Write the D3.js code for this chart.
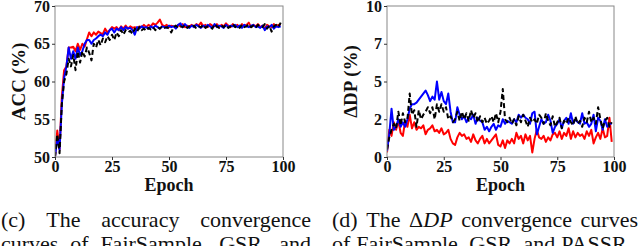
<!DOCTYPE html>
<html>
<head>
<meta charset="utf-8">
<script src="https://cdn.jsdelivr.net/npm/d3@7"></script>
<style>
  body { margin:0; background:#fff; }
  svg { display:block; }
  .tick text { font-family:"Liberation Serif", serif; font-weight:bold; font-size:16px; fill:#111; }
  .lbl { font-family:"Liberation Serif", serif; font-weight:bold; fill:#111; }
  .cap { font-family:"Liberation Serif", serif; font-size:22px; fill:#111; }
</style>
</head>
<body>
<div id="chart-area"></div>
<script>
// epochs 0..99
var epochs = d3.range(0, 100);

// ---- accuracy (%) ----
var accRed = [50,53.5,51,58,61.5,62,64.5,64.5,64.6,64,65,64.2,65,64.6,65.6,66.5,66,66.5,66.2,66.6,
  66.4,66.3,67,66.5,66.8,67.2,67,67.2,66.8,67.3,67,67.4,67,67.3,67.1,67.2,67,67.3,67.2,67.5,
  67.2,67.5,67.3,67.7,67.5,67.8,68.2,67.5,67.3,67.5,67.2,67.4,67.3,67.2,67.5,67.3,67.6,67.2,67.4,67.3,
  67.5,67.2,67.6,67.4,67.8,67.3,67.5,67.2,67.6,67.4,67.3,67.6,67.2,67.5,67.3,67.7,67.4,67.2,67.6,67.3,
  67.5,67.2,67.6,67.3,67.5,67.8,67.2,67.5,67.3,67.6,67.2,67.4,67.0,67.5,67.3,67.2,67.6,67.3,67.5,67.6];
var accBlue = [50,52.5,51,57,60.5,62,64.5,63,64,63,64.5,63.5,64,65,65.5,65.5,65,65.5,65.7,66,
  66.2,66,66.5,66.2,66.8,67,66.5,67,66.8,67.2,66.8,67.2,67,67.1,66.8,66.2,67.2,67,67.3,67.1,
  67.2,67,67.3,67.1,67.4,67.2,67,67.3,67.2,67.1,67.4,67.2,67.3,67,67.5,67.7,67.2,67.6,67.3,67.1,
  67.4,67.2,67.5,67.3,67.1,67.4,67.2,67.5,67.3,67.1,67.6,67.2,67.4,67.3,67.1,67.5,67.2,67.4,67.3,67.5,
  67.2,67.4,67.1,67.5,67.3,67.2,67.4,67.5,67.2,67.3,67.1,67.4,66.8,67.3,67.2,67.5,67.0,67.3,67.2,67.3];
var accBlack = [50,53,50.5,57,60,61,63,62,63.5,61.5,64,62.5,64,63.3,64.5,63.8,62.8,65,64.5,65.5,
  64.8,65.7,65.2,66,65.5,66.2,65.5,66.5,66,66.8,66.2,66.8,66.5,66.7,66.3,67,66.6,67.2,66.8,67,
  66.7,67.1,66.9,67.2,66.8,67.2,67,67.3,67.1,67.2,67,66.5,67.2,67.4,67.1,67.3,67.2,67.5,67.1,67.3,
  67.2,67.4,67,67.3,67.2,67.5,67.1,67.3,67.2,67,67.6,67.3,67.1,67.4,67.2,67.5,67.1,67.3,67.6,67.2,
  67.4,67.1,67.5,67.2,67.3,67.6,67.2,67.4,67.1,67.5,67.3,67.2,67.6,67.0,67.4,66.6,67.3,67.5,67.2,67.8];

// ---- delta DP (%) ----
var dpRed = [0.3,1.8,1.4,2.3,1.8,2.4,1.6,1.4,2.4,2.0,2.8,1.9,2.3,1.8,2.0,1.9,2.1,1.5,1.8,1.9,
  2.1,1.7,1.8,1.6,1.9,1.5,1.6,1.8,1.2,0.9,0.8,1.3,1.6,1.4,1.5,1.2,1.3,1.0,1.5,1.1,
  0.9,1.2,1.4,0.9,1.2,0.9,1.1,1.3,1.5,0.8,0.7,1.1,0.6,1.1,0.9,1.2,0.9,1.6,1.2,1.4,
  0.9,1.5,1.1,1.4,0.3,1.2,1.8,1.3,1.2,1.4,1.0,1.3,1.1,1.5,1.6,1.3,1.7,1.2,1.6,1.4,
  1.9,1.2,1.7,1.3,1.6,1.4,1.5,1.2,1.7,1.4,1.8,0.9,1.3,1.6,1.2,1.9,1.3,1.4,2.6,1.0];
var dpBlue = [0.4,1.5,3.2,1.8,2.0,2.5,2.0,2.3,2.0,2.5,3.2,3.5,3.5,3.6,3.8,4.0,4.2,4.4,4.1,3.7,
  4.0,3.8,5.0,3.8,4.3,3.7,3.5,4.2,3.0,2.3,2.3,3.3,2.8,2.5,2.7,2.3,2.6,2.5,2.8,2.2,
  2.6,2.4,2.3,1.8,2.0,1.7,2.0,2.2,1.8,2.1,2.0,2.5,2.2,2.4,2.3,2.2,2.5,2.3,2.8,2.6,
  2.8,2.6,2.5,2.2,2.9,3.0,1.5,2.0,2.5,2.2,2.3,2.8,2.4,1.6,2.0,2.2,2.5,1.9,2.4,2.6,
  2.2,2.9,2.2,2.5,2.3,2.2,2.9,2.2,2.3,2.0,2.2,2.8,1.7,2.6,2.4,1.8,2.5,2.0,2.2,2.2];
var dpBlack = [0.5,1.3,1.8,2.2,1.9,3.0,2.1,2.9,2.3,2.5,4.2,2.8,3.1,2.0,3.1,2.5,2.8,3.0,3.3,2.9,
  3.3,2.5,3.5,3.0,3.5,3.0,3.3,2.5,2.7,2.3,2.5,3.0,2.4,3.0,2.5,2.9,2.4,3.1,2.6,2.9,
  2.3,2.7,2.3,2.6,2.2,2.4,2.7,2.3,2.9,2.3,3.0,4.5,2.5,2.3,2.6,2.2,2.5,2.1,2.7,2.3,
  2.8,2.4,2.0,2.6,2.3,2.5,2.2,2.8,2.6,2.2,2.9,2.4,2.1,2.7,2.0,2.3,2.6,1.9,2.4,2.2,
  2.6,2.3,2.1,2.7,2.2,2.4,2.0,2.6,2.3,3.0,2.3,2.6,2.2,3.3,2.5,1.9,2.4,2.6,2.0,2.3];

var xTicks = [0, 25, 50, 75, 100];
var accTicks = [50, 55, 60, 65, 70];
var dpTicks = [0, 2.5, 5, 7.5, 10];

var captionLeft = ["(c) The accuracy convergence", "curves of FairSample, GSR, and"];
var captionRight = ["(d) The \u0394DP convergence curves", "of FairSample, GSR, and PASSR."];

var W = 640, H = 246;
var svg = d3.select("#chart-area").append("svg")
    .attr("width", W).attr("height", H);

function panel(opt){
    var x = d3.scaleLinear().domain([0,100]).range([opt.x0, opt.x1]);
    var y = d3.scaleLinear().domain(opt.yDomain).range([opt.y1, opt.y0]);
    var g = svg.append("g");

    var clipId = "clip" + opt.id;
    g.append("clipPath").attr("id", clipId).append("rect")
        .attr("x", opt.x0).attr("y", opt.y0)
        .attr("width", opt.x1 - opt.x0).attr("height", opt.y1 - opt.y0);

    var line = d3.line().x(function(d,i){ return x(epochs[i]); }).y(function(d){ return y(d); });

    opt.series.forEach(function(s){
        g.append("path")
            .attr("clip-path", "url(#" + clipId + ")")
            .attr("d", line(s.values))
            .attr("fill", "none")
            .attr("stroke", s.color)
            .attr("stroke-width", 2)
            .attr("stroke-linejoin", "round")
            .attr("stroke-dasharray", s.dash || null);
    });

    // frame
    g.append("rect")
        .attr("x", opt.x0).attr("y", opt.y0)
        .attr("width", opt.x1 - opt.x0).attr("height", opt.y1 - opt.y0)
        .attr("fill", "none").attr("stroke", "#888").attr("stroke-width", 1);

    var bottom = g.append("g")
        .attr("transform", "translate(0," + opt.y1 + ")")
        .call(d3.axisBottom(x).tickValues(xTicks).tickSize(3).tickPadding(1));
    var left = g.append("g")
        .attr("transform", "translate(" + opt.x0 + ",0)")
        .call(d3.axisLeft(y).tickValues(opt.yTicks).tickSize(3).tickPadding(2)
            .tickFormat(function(d){ return String(Math.floor(d)); }));
    [bottom, left].forEach(function(a){
        a.attr("font-family", null).attr("font-size", null);
        a.select(".domain").remove();
        a.selectAll(".tick line").attr("stroke", "#333");
    });

    g.append("text").attr("class", "lbl")
        .attr("x", (opt.x0 + opt.x1) / 2).attr("y", opt.y1 + 34)
        .attr("text-anchor", "middle").attr("font-size", "18px")
        .text("Epoch");

    g.append("text").attr("class", "lbl")
        .attr("transform", "translate(" + opt.yLabelX + "," + ((opt.y0 + opt.y1) / 2) + ") rotate(-90)")
        .attr("text-anchor", "middle").attr("font-size", "19px")
        .text(opt.yLabel);
}

panel({id:"a", x0:55, x1:283, y0:6, y1:157, yDomain:[50,70], yTicks:accTicks,
       yLabel:"ACC (%)", yLabelX:25,
       series:[{values:accRed, color:"#ff0000"},
               {values:accBlue, color:"#0000ff"},
               {values:accBlack, color:"#000", dash:"5,3"}]});

panel({id:"b", x0:387, x1:614, y0:6, y1:157, yDomain:[0,10], yTicks:dpTicks,
       yLabel:"\u0394DP (%)", yLabelX:357,
       series:[{values:dpRed, color:"#ff0000"},
               {values:dpBlue, color:"#0000ff"},
               {values:dpBlack, color:"#000", dash:"5,3"}]});

// captions, justified word by word
function captionLine(str, x0, x1, baseline, justify){
    var words = str.split(" ");
    var nodes = words.map(function(w){
        var t = svg.append("text").attr("class", "cap").attr("y", baseline);
        if (w.indexOf("\u0394DP") >= 0) {
            t.append("tspan").text("\u0394");
            t.append("tspan").attr("font-style", "italic").text("DP");
        } else {
            t.text(w);
        }
        return t;
    });
    var widths = nodes.map(function(t){ return t.node().getComputedTextLength(); });
    var total = d3.sum(widths);
    var gap = justify ? (x1 - x0 - total) / (words.length - 1) : 6;
    var cx = x0;
    nodes.forEach(function(t, i){
        t.attr("x", cx);
        cx += widths[i] + gap;
    });
}

captionLine(captionLeft[0], 1, 311, 227, true);
captionLine(captionLeft[1], 1, 311, 251, true);
captionLine(captionRight[0], 332, 638, 227, true);
captionLine(captionRight[1], 332, 638, 251, false);
</script>
</body>
</html>
